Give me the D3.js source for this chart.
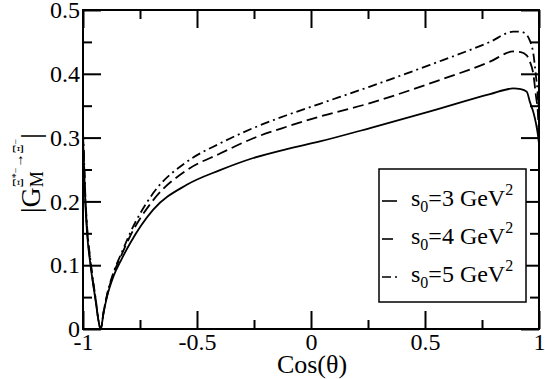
<!DOCTYPE html>
<html>
<head>
<meta charset="utf-8">
<script src="https://cdn.jsdelivr.net/npm/d3@7"></script>
<style>
  body { margin: 0; background: #fff; }
  text { font-family: "Liberation Serif", "DejaVu Serif", serif; fill: #000; }
</style>
</head>
<body>
<div id="chart"></div>
<script>
// |G_M| vs cos(theta) for three s0 values

const cosTheta = [-1.000, -0.995, -0.990, -0.982, -0.967, -0.947, -0.922, -0.910, -0.895, -0.867,
                  -0.830, -0.794, -0.692, -0.545, -0.399, -0.253, -0.107, 0.039, 0.259, 0.522,
                  0.785, 0.887, 0.920, 0.946, 0.960, 0.975, 0.987, 0.995, 1.000]
const gS3 = [0.300, 0.250, 0.200, 0.150, 0.100, 0.050, 0.000, 0.025, 0.050, 0.082,
             0.110, 0.134, 0.187, 0.226, 0.249, 0.268, 0.282, 0.294, 0.315, 0.341,
             0.368, 0.377, 0.376, 0.372, 0.356, 0.340, 0.322, 0.305, 0.290]
const gS4 = [0.305, 0.255, 0.206, 0.156, 0.104, 0.052, 0.000, 0.026, 0.052, 0.086,
             0.117, 0.145, 0.202, 0.249, 0.275, 0.299, 0.317, 0.333, 0.354, 0.385,
             0.419, 0.435, 0.434, 0.429, 0.419, 0.400, 0.364, 0.340, 0.300]
const gS5 = [0.310, 0.262, 0.212, 0.160, 0.107, 0.054, 0.000, 0.026, 0.053, 0.088,
             0.120, 0.150, 0.213, 0.262, 0.291, 0.315, 0.335, 0.353, 0.380, 0.414,
             0.450, 0.466, 0.466, 0.461, 0.452, 0.432, 0.395, 0.364, 0.320]
const seriesNames = ["3", "4", "5"]

const xMajor = [-1, -0.5, 0, 0.5, 1]
const xMinor = [-0.75, -0.25, 0.25, 0.75]
const yMajor = [0, 0.1, 0.2, 0.3, 0.4, 0.5]
const yMinor = [0.05, 0.15, 0.25, 0.35, 0.45]

const WD = 545, HT = 379
const margin = { left: 83, right: 6, top: 10, bottom: 50 }
const width = WD - margin.left - margin.right
const height = HT - margin.top - margin.bottom

const svg = d3.select("#chart").append("svg")
    .attr("width", WD)
    .attr("height", HT)

const g = svg.append("g")
    .attr("transform", "translate(" + margin.left + "," + margin.top + ")")

const xs = d3.scaleLinear().domain([-1, 1]).range([0, width])
const ys = d3.scaleLinear().domain([0, 0.5]).range([height, 0])

const fmt = d => String(d)

// axes: major + minor ticks on all four sides, pointing inward
function styleAxis(sel) {
  sel.select(".domain").remove()
  sel.selectAll("line").attr("stroke", "#000").attr("stroke-width", 2)
  sel.selectAll("text").attr("font-size", "24px").attr("font-family", "Liberation Serif")
}

g.append("g").attr("transform", "translate(0," + height + ")")
  .call(d3.axisBottom(xs).tickValues(xMajor).tickSize(-18).tickPadding(4).tickFormat(fmt))
  .call(styleAxis)
g.append("g").attr("transform", "translate(0," + height + ")")
  .call(d3.axisBottom(xs).tickValues(xMinor).tickSize(-9).tickFormat(""))
  .call(styleAxis)
g.append("g")
  .call(d3.axisTop(xs).tickValues(xMajor).tickSize(-18).tickFormat(""))
  .call(styleAxis)
g.append("g")
  .call(d3.axisTop(xs).tickValues(xMinor).tickSize(-9).tickFormat(""))
  .call(styleAxis)

g.append("g")
  .call(d3.axisLeft(ys).tickValues(yMajor).tickSize(-18).tickPadding(3).tickFormat(fmt))
  .call(styleAxis)
g.append("g")
  .call(d3.axisLeft(ys).tickValues(yMinor).tickSize(-9).tickFormat(""))
  .call(styleAxis)
g.append("g").attr("transform", "translate(" + width + ",0)")
  .call(d3.axisRight(ys).tickValues(yMajor).tickSize(-18).tickFormat(""))
  .call(styleAxis)
g.append("g").attr("transform", "translate(" + width + ",0)")
  .call(d3.axisRight(ys).tickValues(yMinor).tickSize(-9).tickFormat(""))
  .call(styleAxis)

// curves
const dashes = [null, "11,5", "9,4,2,4"]
const allSeries = [gS3, gS4, gS5]

const line = d3.line()
    .x(d => xs(d[0]))
    .y(d => ys(d[1]))
    .curve(d3.curveMonotoneX)

allSeries.forEach((vals, i) => {
  g.append("path")
    .datum(cosTheta.map((c, j) => [c, vals[j]]))
    .attr("fill", "none")
    .attr("stroke", "#000")
    .attr("stroke-width", 1.8)
    .attr("stroke-dasharray", dashes[i])
    .attr("d", line)
})

// frame
g.append("rect")
  .attr("width", width).attr("height", height)
  .attr("fill", "none").attr("stroke", "#000").attr("stroke-width", 2)

// x label
g.append("text")
  .attr("x", width / 2 + 1)
  .attr("y", height + 44)
  .attr("font-size", "26px")
  .attr("text-anchor", "middle")
  .text("Cos(θ)")

// y label |G_M^{Ξ*- -> Ξ-}|
const yl = svg.append("text")
  .attr("transform", "translate(40,213) rotate(-90)")
  .attr("font-size", "28px")
yl.append("tspan").text("|G")
yl.append("tspan").attr("font-size", "18px").attr("dy", 3).text("M")
yl.append("tspan").attr("font-size", "14px").attr("dx", -16).attr("dy", -20).text("Ξ")
yl.append("tspan").attr("font-size", "10px").attr("dy", -4).text("*−")
yl.append("tspan").attr("font-size", "14px").attr("dy", 4).text("→Ξ")
yl.append("tspan").attr("font-size", "10px").attr("dy", -4).text("−")
yl.append("tspan").attr("dy", 21).text("|")

// legend
const lg = svg.append("g")
lg.append("rect")
  .attr("x", 379).attr("y", 169).attr("width", 147).attr("height", 133)
  .attr("fill", "#fff").attr("stroke", "#000").attr("stroke-width", 1.5)

seriesNames.forEach((s, i) => {
  const yy = 201 + i * 38
  lg.append("line")
    .attr("x1", 382).attr("x2", 397).attr("y1", yy).attr("y2", yy)
    .attr("stroke", "#000").attr("stroke-width", 1.6)
    .attr("stroke-dasharray", dashes[i])
  const t = lg.append("text").attr("x", 411).attr("y", yy + 5).attr("font-size", "24px")
  t.append("tspan").text("s")
  t.append("tspan").attr("font-size", "16px").attr("dy", 6).text("0")
  t.append("tspan").attr("dy", -6).text("=" + s + " GeV")
  t.append("tspan").attr("font-size", "16px").attr("dy", -11).text("2")
})
</script>
</body>
</html>
